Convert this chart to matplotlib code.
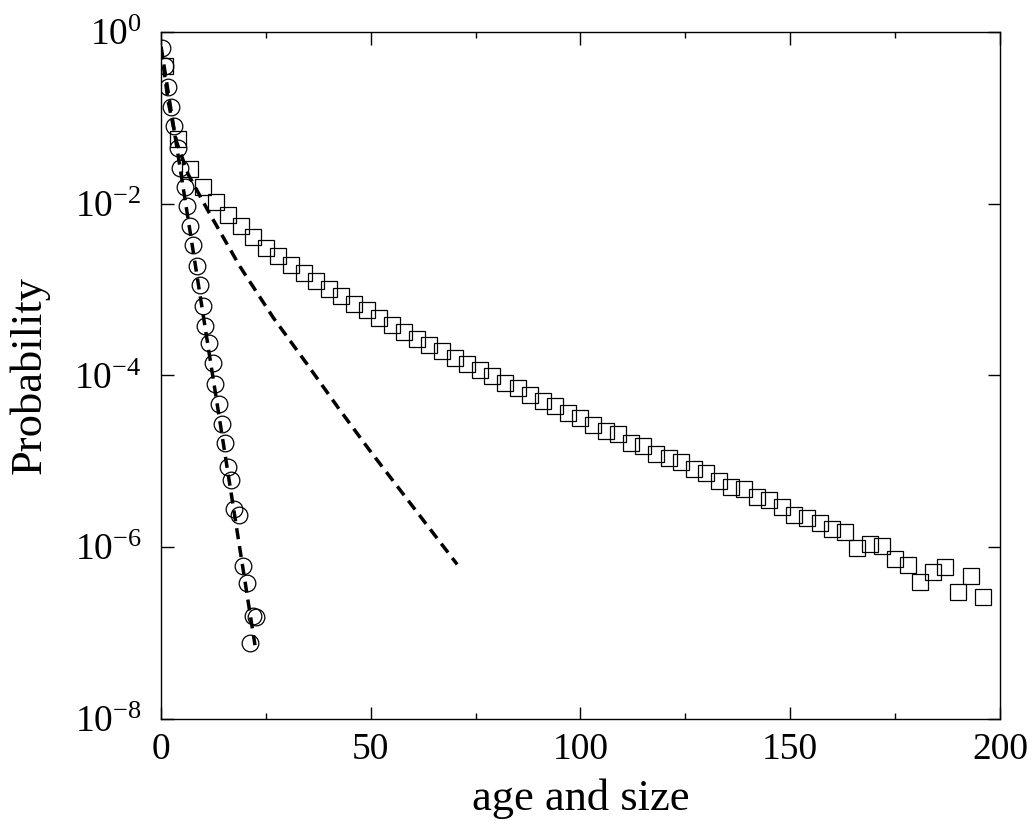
import numpy as np
import matplotlib
matplotlib.use('Agg')
import matplotlib.pyplot as plt
from matplotlib.ticker import MultipleLocator, LogLocator, NullLocator

plt.rcParams['font.family'] = ['Liberation Serif', 'DejaVu Serif']
plt.rcParams['mathtext.fontset'] = 'custom'
plt.rcParams['mathtext.rm'] = 'Liberation Serif'
plt.rcParams['mathtext.it'] = 'Liberation Serif:italic'

# circles (age) -- log10 of probability
circ_x = [0.3, 1.0, 1.75, 2.4, 3.2, 4.0, 4.5, 5.6, 6.3, 6.9, 7.7, 8.5, 9.3, 10.1, 10.5,
          11.5, 12.3, 12.9, 13.9, 14.5, 15.3, 15.9, 16.6, 17.5, 18.6, 19.6, 20.6,
          22.0, 22.6, 21.3]
circ_log10 = [-0.19, -0.40, -0.64, -0.87, -1.10, -1.35, -1.58, -1.80, -2.03, -2.26, -2.48,
              -2.72, -2.95, -3.19, -3.42, -3.62, -3.86, -4.10, -4.33, -4.56, -4.79, -5.06,
              -5.22, -5.55, -5.62, -6.22, -6.42, -6.80, -6.81, -7.12]

# squares (size)
sq_x = [1, 4, 7, 10, 13, 16, 19, 22, 25, 28, 31, 34, 37, 40, 43, 46, 49, 52, 55, 58,
        61, 64, 67, 70, 73, 76, 79, 82, 85, 88, 91, 94, 97, 100, 103, 106, 109, 112,
        115, 118, 121, 124, 127, 130, 133, 136, 139, 142, 145, 148, 151, 154, 157,
        160, 163, 166, 169, 172, 175, 178, 181, 184, 187, 190, 193, 196]
sq_log10 = [-0.40, -1.25, -1.59, -1.81, -1.98, -2.13, -2.26, -2.39, -2.51, -2.61, -2.71,
            -2.81, -2.90, -2.99, -3.08, -3.17, -3.24, -3.33, -3.41, -3.49, -3.57, -3.64,
            -3.72, -3.80, -3.87, -3.94, -4.01, -4.09, -4.15, -4.23, -4.30, -4.35, -4.44,
            -4.49, -4.58, -4.65, -4.68, -4.79, -4.82, -4.91, -4.96, -5.01, -5.09, -5.14,
            -5.23, -5.30, -5.32, -5.41, -5.45, -5.53, -5.62, -5.66, -5.72, -5.79, -5.82,
            -6.01, -5.96, -5.99, -6.14, -6.21, -6.40, -6.29, -6.23, -6.52, -6.34, -6.58]

# dashed curves
fit1_x = [0, 22.4]
fit1_log10 = [-0.17, -7.14]
fit2_x = [0, 1.7, 3.7, 6.5, 11.3, 18.8, 26.8, 34.7, 42.3, 49.4, 70.6]
fit2_log10 = [-0.19, -0.81, -1.28, -1.66, -2.09, -2.73, -3.33, -3.86, -4.38, -4.85, -6.20]

fig = plt.figure(figsize=(10.33, 8.27), dpi=100)
ax = fig.add_axes([0.1559, 0.1306, 0.8121, 0.8307])

ax.plot(circ_x, np.power(10.0, circ_log10), linestyle='none', marker='o', ms=12,
        mfc='none', mec='black', mew=0.9)
ax.plot(sq_x, np.power(10.0, sq_log10), linestyle='none', marker='s', ms=11.5,
        mfc='none', mec='black', mew=0.9)
ax.plot(fit1_x, np.power(10.0, fit1_log10), color='black', lw=2.5, dashes=(3.2, 2.0))
ax.plot(fit2_x, np.power(10.0, fit2_log10), color='black', lw=2.5, dashes=(3.2, 2.0))

ax.set_yscale('log')
ax.set_xlim(0, 200)
ax.set_ylim(1e-8, 1)
ax.xaxis.set_major_locator(MultipleLocator(50))
ax.xaxis.set_minor_locator(MultipleLocator(25))
ax.yaxis.set_major_locator(LogLocator(base=100.0))
ax.yaxis.set_minor_locator(NullLocator())

ax.tick_params(which='both', direction='in', top=True, right=True, labelsize=27)
ax.tick_params(which='major', length=9, width=1)
ax.tick_params(which='minor', length=4, width=1)
ax.tick_params(axis='x', pad=10)
ax.tick_params(axis='y', pad=14)
for sp in ax.spines.values():
    sp.set_linewidth(1)

ax.set_xlabel('age and size', fontsize=32, labelpad=8)
ax.set_ylabel('Probability', fontsize=32, labelpad=18)

plt.savefig('out.png', dpi=100, facecolor='white')
